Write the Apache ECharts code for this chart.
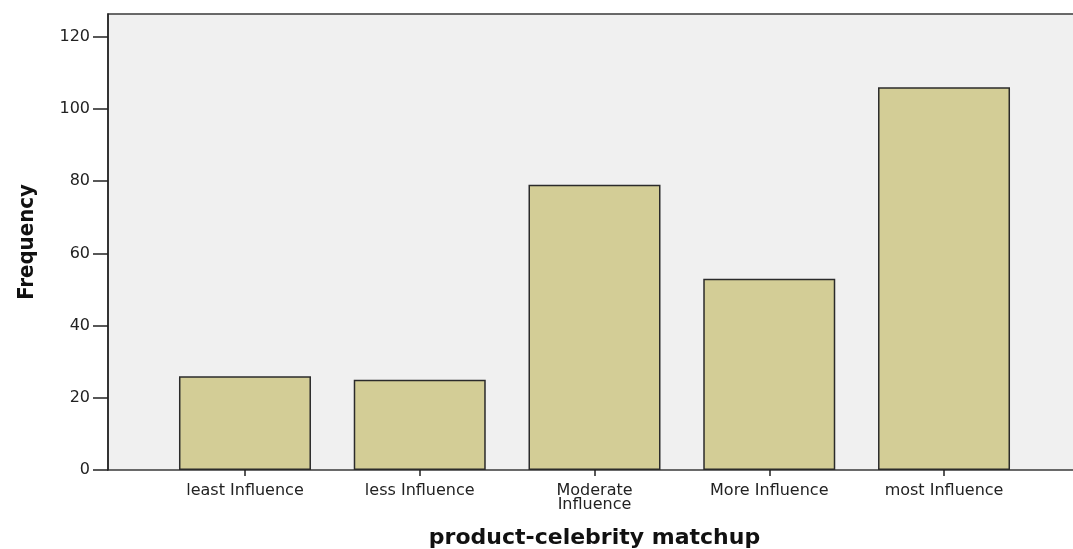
<!DOCTYPE html>
<html><head><meta charset="utf-8">
<script src="https://cdn.jsdelivr.net/npm/echarts@6/dist/echarts.min.js"></script>
<style>html,body{margin:0;padding:0;background:#fff}#c{width:1073px;height:549px}</style>
</head><body><div id="c"></div>
<script>
const categories = ['least Influence', 'less Influence', 'Moderate\nInfluence', 'More Influence', 'most Influence'];
const frequency = [26, 25, 79, 53, 106];
const yTicks = [0, 20, 40, 60, 80, 100, 120];
const xTitle = 'product-celebrity matchup';
const yTitle = 'Frequency';

const chart = echarts.init(document.getElementById('c'));
chart.setOption({
  animation: false,
  graphic: [{
    type: 'rect', z: 0,
    shape: {x: 108, y: 14, width: 1000, height: 456},
    style: {fill: '#f0f0f0', stroke: '#3a3a3a', lineWidth: 1.5}
  }],
  grid: {left: 157.6, right: 41.6, top: 14, bottom: 79, outerBoundsMode: 'none', containLabel: false},
  xAxis: {
    type: 'category', data: categories,
    axisLine: {show: false},
    axisTick: {show: true, alignWithLabel: true, length: 6, lineStyle: {color: '#222', width: 1.5}},
    axisLabel: {color: '#222', fontFamily: 'DejaVu Sans', fontSize: 16, margin: 14, lineHeight: 14, interval: 0},
    name: xTitle, nameLocation: 'middle', nameGap: 57,
    nameTextStyle: {fontFamily: 'DejaVu Sans', fontWeight: 'bold', fontSize: 22, color: '#111'}
  },
  yAxis: {
    type: 'value', min: 0, max: 126.3, offset: 49.6,
    splitLine: {show: false},
    axisLine: {show: true, lineStyle: {color: '#222', width: 1.5}},
    axisTick: {show: true, length: 15, customValues: yTicks, lineStyle: {color: '#222', width: 1.5}},
    axisLabel: {customValues: yTicks, color: '#222', fontFamily: 'DejaVu Sans', fontSize: 16, margin: 18},
    name: yTitle, nameLocation: 'middle', nameGap: 70, nameRotate: 90,
    nameTextStyle: {fontFamily: "'DejaVu Sans Condensed', 'Liberation Sans', sans-serif", fontWeight: 'bold', fontSize: 22, color: '#111'}
  },
  series: [{
    type: 'bar', data: frequency, barWidth: 132,
    itemStyle: {color: '#d3cd96', borderColor: '#2b2b2b', borderWidth: 1.5}
  }]
});
</script></body></html>
